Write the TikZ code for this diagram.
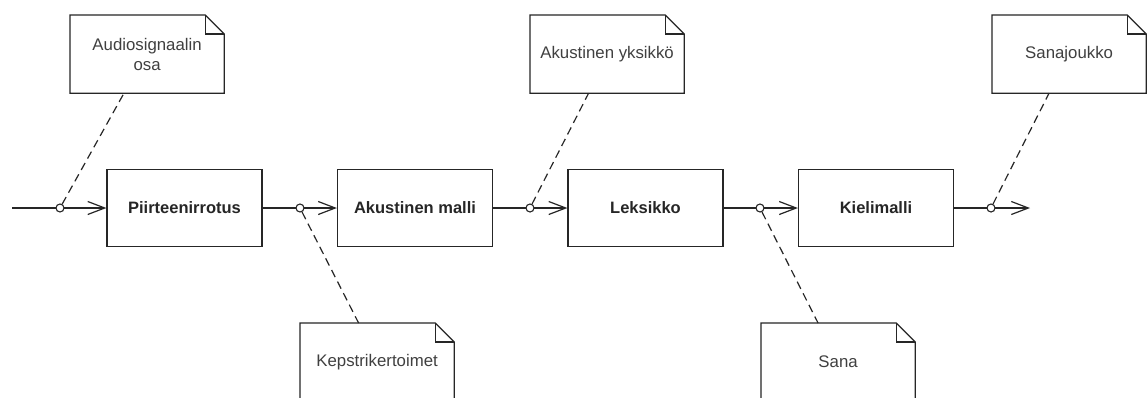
\documentclass[tikz,border=0pt]{standalone}
\usepackage{fontspec}
\setmainfont{Liberation Sans}
\usetikzlibrary{arrows.meta,calc}
\begin{document}
\begin{tikzpicture}[x=1pt,y=-1pt,
  line width=1.2pt,
  procbox/.style={draw=black!85, fill=white, minimum width=155pt, minimum height=77pt, inner sep=0pt,
    font=\fontsize{16.5}{20}\selectfont\bfseries, text=black!85},
  notebox/.style={anchor=north west, minimum width=153pt, minimum height=77pt, inner sep=0pt, align=center,
    font=\fontsize{16.8}{20}\selectfont, text=black!75},
  noteline/.style={draw=black!85, line width=1.2pt},
  flow/.style={draw=black!85, -{Straight Barb[length=17pt,width=13pt,line width=1.2pt]}},
  port/.style={circle, draw=black!85, fill=white, minimum size=8pt, inner sep=0pt, line width=1.1pt},
  link/.style={draw=black!85, dash pattern=on 8pt off 5pt, line width=1.2pt}]
\clip (0,0) rectangle (1148,397);
\fill[white] (0,0) rectangle (1148,397);
% process boxes
\node[procbox] (b1) at (184.5,208) {Piirteenirrotus};
\node[procbox] (b2) at (415,208) {Akustinen malli};
\node[procbox] (b3) at (645.5,208) {Leksikko};
\node[procbox] (b4) at (876,208) {Kielimalli};
\coordinate (in) at (12,208);
\coordinate (out) at (1030,208);
% flows
\draw[flow] (in) -- (b1.west);
\draw[flow] (b1.east) -- (b2.west);
\draw[flow] (b2.east) -- (b3.west);
\draw[flow] (b3.east) -- (b4.west);
\draw[flow] (b4.east) -- (out);
% notes
\node[notebox] (n1) at (70,15) {Audiosignaalin\\osa};
\node[notebox] (n2) at (530,15) {Akustinen yksikkö};
\node[notebox] (n3) at (992,15) {Sanajoukko};
\node[notebox] (n4) at (300,323) {Kepstrikertoimet};
\node[notebox] (n5) at (761,323) {Sana};
% note outlines
\foreach \n in {n1,n2,n3,n4,n5}{
  \draw[noteline] (\n.south west) -- (\n.north west) -- ([xshift=-19pt]\n.north east)
    -- ([yshift=-19pt]\n.north east) -- (\n.south east) -- cycle;
  \draw[noteline] ([xshift=-19pt]\n.north east) |- ([yshift=-19pt]\n.north east);
}
% ports
\node[port] (p1) at (60,208) {};
\node[port] (p2) at (300,208) {};
\node[port] (p3) at (530,208) {};
\node[port] (p4) at (760,208) {};
\node[port] (p5) at (991,208) {};
% links
\draw[link] (p1) -- ($(n1.south west)!0.35!(n1.south east)$);
\draw[link] (p3) -- ($(n2.south west)!0.38!(n2.south east)$);
\draw[link] (p5) -- ($(n3.south west)!0.37!(n3.south east)$);
\draw[link] (p2) -- ($(n4.north west)!0.38!(n4.north east)$);
\draw[link] (p4) -- ($(n5.north west)!0.37!(n5.north east)$);
\end{tikzpicture}
\end{document}
